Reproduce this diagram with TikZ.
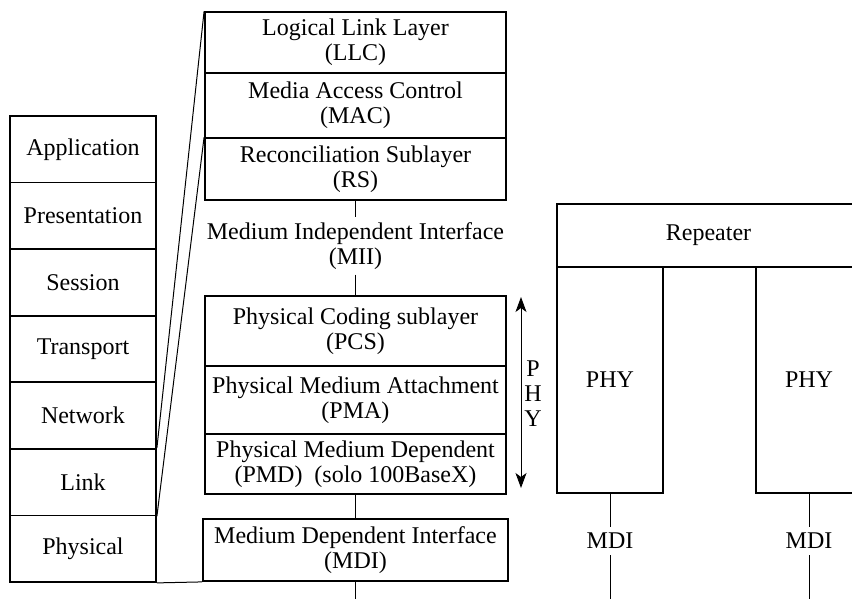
\documentclass[tikz,border=0pt]{standalone}
\usepackage{fontspec}
\setmainfont{Liberation Serif}
\usetikzlibrary{arrows.meta}

\tikzset{
  layer/.style={draw, line width=1.8pt, inner sep=0pt, align=center,
    font=\fontsize{24}{25}\selectfont},
  plain/.style={inner sep=0pt, align=center, font=\fontsize{24}{25}\selectfont},
  link/.style={line width=0.9pt},
  mapline/.style={line width=1pt},
  spanarrow/.style={line width=0.9pt, >={Stealth[length=15pt,width=11pt,inset=4pt]}, <->},
}

\begin{document}
\begin{tikzpicture}[x=1pt, y=-1pt]
\useasboundingbox (0,0) rectangle (852,598);
\clip (0,0) rectangle (852,598);

% OSI reference stack
\foreach \name/\txt [count=\i] in {app/Application, pres/Presentation, sess/Session,
    trans/Transport, net/Network, lnk/Link, phys/Physical}{
  \node[layer, minimum width=146pt, minimum height=66.57pt]
    (\name) at (83, {116 + 66.57*(\i-0.5)}) {\txt};
}

% IEEE 802.3 upper sublayers
\node[layer, minimum width=301pt, minimum height=61pt] (llc) at (355.5,42.5)
  {Logical Link Layer\\(LLC)};
\node[layer, minimum width=301pt, minimum height=65pt] (mac) at (355.5,105.5)
  {Media Access Control\\(MAC)};
\node[layer, minimum width=301pt, minimum height=62pt] (rs) at (355.5,169)
  {Reconciliation Sublayer\\(RS)};

% Medium independent interface
\node[plain, inner sep=5pt] (mii) at (355.5,246) {Medium Independent Interface\\(MII)};

% PHY sublayers
\node[layer, minimum width=301pt, minimum height=70pt] (pcs) at (355.5,331)
  {Physical Coding sublayer\\(PCS)};
\node[layer, minimum width=301pt, minimum height=68pt] (pma) at (355.5,400)
  {Physical Medium Attachment\\(PMA)};
\node[layer, minimum width=301pt, minimum height=60pt] (pmd) at (355.5,464)
  {Physical Medium Dependent\\(PMD)\ \ (solo 100BaseX)};

% Medium dependent interface
\node[layer, minimum width=305pt, minimum height=62pt] (mdi) at (355.5,550)
  {Medium Dependent Interface\\(MDI)};
\coordinate (mdiout) at (355.5,600);

\draw[link] (rs.south) -- (mii.north);
\draw[link] (mii.south) -- (pcs.north);
\draw[link] (pmd.south) -- (mdi.north);
\draw[link] (mdi.south) -- (mdiout);

% mapping between the two stacks
\draw[mapline] (llc.north west) -- (lnk.north east);
\draw[mapline] (rs.north west) -- (lnk.south east);
\draw[mapline] (phys.south east) -- (mdi.south west);

% PHY extent
\coordinate (phytop) at (521,297);
\coordinate (phybot) at (521,488);
\draw[spanarrow] (phytop) -- (phybot);
\node[plain] (phylbl) at (533,394) {P\\H\\Y};

% Repeater
\node[layer, minimum width=303pt, minimum height=63pt] (rep) at (708.5,235.5) {Repeater};
\node[layer, minimum width=106pt, minimum height=226pt] (phyl) at (610,380) {PHY};
\node[layer, minimum width=106pt, minimum height=226pt] (phyr) at (809,380) {PHY};

\node[plain, inner sep=6pt] (mdil) at (610,541) {MDI};
\node[plain, inner sep=6pt] (mdir) at (809,541) {MDI};
\coordinate (outl) at (610,600);
\coordinate (outr) at (809,600);

\draw[link] (phyl.south) -- (mdil.north);
\draw[link] (mdil.south) -- (outl);
\draw[link] (phyr.south) -- (mdir.north);
\draw[link] (mdir.south) -- (outr);
\end{tikzpicture}
\end{document}
